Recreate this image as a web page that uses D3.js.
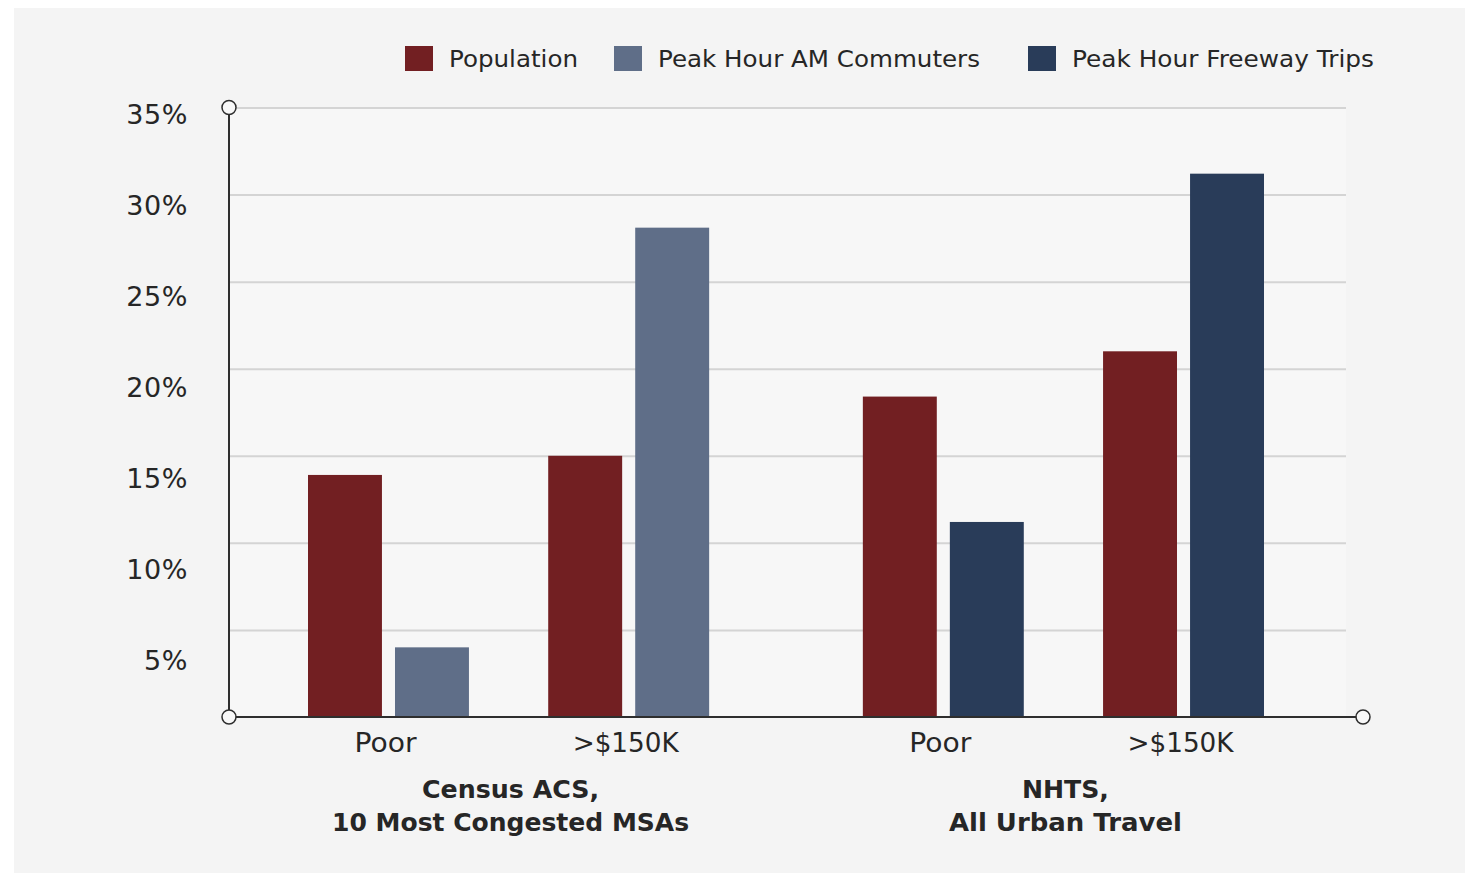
<!DOCTYPE html>
<html>
<head>
<meta charset="utf-8">
<script src="https://cdn.jsdelivr.net/npm/d3@7"></script>
<style>
  html, body { margin: 0; padding: 0; background: #ffffff; }
  svg { display: block; }
  text { font-family: "DejaVu Sans", sans-serif; fill: #262626; }
</style>
</head>
<body>
<svg id="chart" width="1465" height="873"></svg>
<script>
// ---- data ----
const groupTitles = [["Census ACS,", "10 Most Congested MSAs"], ["NHTS,", "All Urban Travel"]];
const incomes = ["Poor", ">$150K"];
const seriesNames = ["Population", "Peak Hour AM Commuters", "Peak Hour Freeway Trips"];
// Population share: Census Poor, Census >$150K, NHTS Poor, NHTS >$150K
const population = [13.9, 15.0, 18.4, 21.0];
// Census ACS group, second bar
const amCommuters = [4.0, 28.1];
// NHTS group, second bar
const freewayTrips = [11.2, 31.2];
const yTicks = [5, 10, 15, 20, 25, 30, 35];
const seriesColors = ["#721f22", "#5f6e88", "#293c59"];

// ---- layout ----
const W = 1465, H = 873;
const plotLeft = 229, plotRight = 1363, plotTop = 107.5, plotBottom = 717;
const gridRight = 1346;

const svg = d3.select("#chart");

// background panel
svg.append("rect").attr("x", 14).attr("y", 8).attr("width", W - 14).attr("height", H - 8)
  .attr("fill", "#f4f4f4");
svg.append("rect").attr("x", plotLeft).attr("y", plotTop).attr("width", gridRight - plotLeft)
  .attr("height", plotBottom - plotTop).attr("fill", "#f7f7f7");

// scales
const y = d3.scaleLinear().domain([0, 35]).range([plotBottom, plotTop]);
const yLabel = d3.scaleLinear().domain([0, 35]).range([751.5, 114.5]);

const groupIdx = groupTitles.map((d, i) => i);
const x0 = d3.scaleBand().domain(groupIdx).range([308, 1264]).paddingInner(0.277).paddingOuter(0);
const x1 = d3.scaleBand().domain(incomes).range([0, x0.bandwidth()]).paddingInner(0.33).paddingOuter(0);
const x2 = d3.scaleBand().domain([0, 1]).range([0, x1.bandwidth()]).paddingInner(0.15).paddingOuter(0);

// gridlines
const grid = svg.append("g").attr("transform", `translate(${plotLeft},0)`)
  .call(d3.axisLeft(y).tickValues(yTicks).tickSize(-(gridRight - plotLeft)).tickFormat(""));
grid.select(".domain").remove();
grid.selectAll(".tick line").attr("stroke", "#d4d4d4").attr("stroke-width", 2);

// y tick labels
const yl = svg.append("g").attr("transform", "translate(188,0)")
  .call(d3.axisLeft(yLabel).tickValues(yTicks).tickSize(0).tickPadding(0).tickFormat(d => d + "%"));
yl.select(".domain").remove();
yl.selectAll(".tick text").attr("font-size", 27).attr("fill", "#262626")
  .attr("font-family", "DejaVu Sans, sans-serif").attr("dy", "0.35em")
  .attr("letter-spacing", 0.6);

// bars
const rows = [];
groupIdx.forEach(g => {
  incomes.forEach((inc, k) => {
    rows.push({ g, inc, slot: 0, series: 0, value: population[g * 2 + k] });
    if (g === 0) rows.push({ g, inc, slot: 1, series: 1, value: amCommuters[k] });
    else rows.push({ g, inc, slot: 1, series: 2, value: freewayTrips[k] });
  });
});

svg.append("g").selectAll("rect").data(rows).join("rect")
  .attr("x", d => x0(d.g) + x1(d.inc) + x2(d.slot))
  .attr("y", d => y(d.value))
  .attr("width", x2.bandwidth())
  .attr("height", d => y(0) - y(d.value))
  .attr("fill", d => seriesColors[d.series]);

// axes lines
svg.append("line").attr("x1", plotLeft).attr("x2", plotLeft).attr("y1", plotTop).attr("y2", plotBottom)
  .attr("stroke", "#2e2e2e").attr("stroke-width", 2);
svg.append("line").attr("x1", plotLeft).attr("x2", plotRight).attr("y1", plotBottom).attr("y2", plotBottom)
  .attr("stroke", "#2e2e2e").attr("stroke-width", 2);
[[plotLeft, plotTop], [plotLeft, plotBottom], [plotRight, plotBottom]].forEach(([cx, cy]) => {
  svg.append("circle").attr("cx", cx).attr("cy", cy).attr("r", 7)
    .attr("fill", "#f8f8f8").attr("stroke", "#2e2e2e").attr("stroke-width", 1.5);
});

// income labels
const incomeWidths = { "Poor": 62, ">$150K": 106 };
groupIdx.forEach(g => {
  incomes.forEach(inc => {
    svg.append("text")
      .attr("x", x0(g) + x1(inc) + x1.bandwidth() / 2 - 3)
      .attr("y", 743).attr("dy", "0.35em")
      .attr("text-anchor", "middle").attr("font-size", 26)
      .attr("textLength", incomeWidths[inc]).attr("lengthAdjust", "spacingAndGlyphs")
      .text(inc);
  });
});

// group titles
const titleWidths = [[177, 357], [87, 233]];
groupIdx.forEach(g => {
  groupTitles[g].forEach((line, j) => {
    svg.append("text")
      .attr("x", x0(g) + x0.bandwidth() / 2 + 2)
      .attr("y", 789 + j * 33).attr("dy", "0.35em")
      .attr("text-anchor", "middle").attr("font-size", 25).attr("font-weight", "bold")
      .attr("textLength", titleWidths[g][j]).attr("lengthAdjust", "spacingAndGlyphs")
      .text(line);
  });
});

// legend
const legendX = [405, 614, 1028];
const legendTextW = [129, 322, 302];
seriesNames.forEach((name, i) => {
  const lg = svg.append("g").attr("transform", `translate(${legendX[i]},46)`);
  lg.append("rect").attr("width", 28).attr("height", 25).attr("fill", seriesColors[i]);
  lg.append("text").attr("x", 44).attr("y", 13).attr("dy", "0.35em")
    .attr("font-size", 23).attr("textLength", legendTextW[i]).attr("lengthAdjust", "spacingAndGlyphs")
    .text(name);
});
</script>
</body>
</html>
